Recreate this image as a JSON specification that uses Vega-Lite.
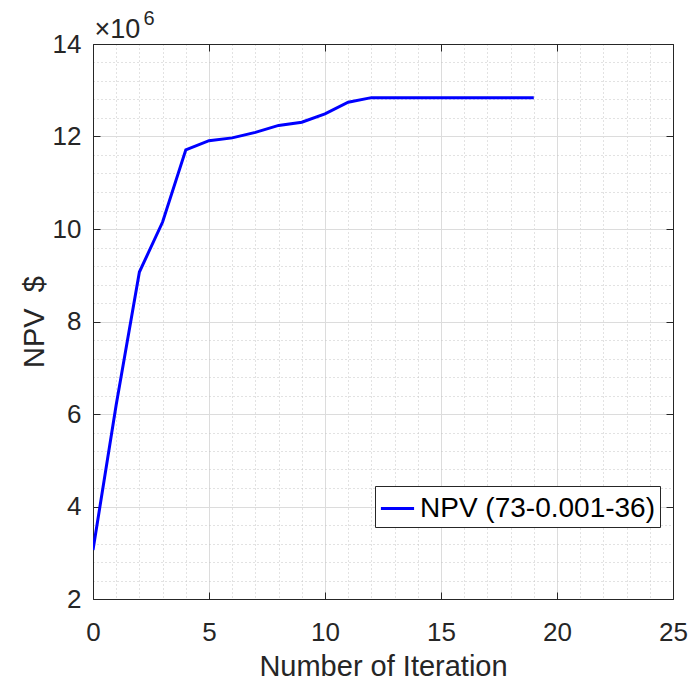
{
  "$schema": "https://vega.github.io/schema/vega-lite/v6.json",
  "autosize": "none",
  "width": 580,
  "height": 555,
  "padding": {"left": 93, "top": 44, "right": 18, "bottom": 85},
  "background": "white",
  "config": {
    "font": "Liberation Sans",
    "view": {"stroke": null},
    "axis": {"labelFont": "Liberation Sans", "titleFont": "Liberation Sans", "labelColor": "#262626", "titleColor": "#262626", "domainColor": "#262626", "tickColor": "#262626", "titleFontWeight": "normal", "labelOverlap": false, "labelFlush": false}
  },
  "data": {
    "values": [
      {"iteration": 0, "npv": 3060000, "series": "NPV (73-0.001-36)"},
      {"iteration": 1, "npv": 6200000, "series": "NPV (73-0.001-36)"},
      {"iteration": 2, "npv": 9070000, "series": "NPV (73-0.001-36)"},
      {"iteration": 3, "npv": 10150000, "series": "NPV (73-0.001-36)"},
      {"iteration": 4, "npv": 11710000, "series": "NPV (73-0.001-36)"},
      {"iteration": 5, "npv": 11910000, "series": "NPV (73-0.001-36)"},
      {"iteration": 6, "npv": 11970000, "series": "NPV (73-0.001-36)"},
      {"iteration": 7, "npv": 12090000, "series": "NPV (73-0.001-36)"},
      {"iteration": 8, "npv": 12240000, "series": "NPV (73-0.001-36)"},
      {"iteration": 9, "npv": 12310000, "series": "NPV (73-0.001-36)"},
      {"iteration": 10, "npv": 12490000, "series": "NPV (73-0.001-36)"},
      {"iteration": 11, "npv": 12740000, "series": "NPV (73-0.001-36)"},
      {"iteration": 12, "npv": 12840000, "series": "NPV (73-0.001-36)"},
      {"iteration": 13, "npv": 12840000, "series": "NPV (73-0.001-36)"},
      {"iteration": 14, "npv": 12840000, "series": "NPV (73-0.001-36)"},
      {"iteration": 15, "npv": 12840000, "series": "NPV (73-0.001-36)"},
      {"iteration": 16, "npv": 12840000, "series": "NPV (73-0.001-36)"},
      {"iteration": 17, "npv": 12840000, "series": "NPV (73-0.001-36)"},
      {"iteration": 18, "npv": 12840000, "series": "NPV (73-0.001-36)"},
      {"iteration": 19, "npv": 12840000, "series": "NPV (73-0.001-36)"}
    ]
  },
  "layer": [
    {
      "mark": {"type": "line", "strokeWidth": 3, "clip": true},
      "encoding": {
        "x": {
          "field": "iteration", "type": "quantitative",
          "scale": {"domain": [0, 25], "nice": false, "zero": false},
          "axis": {
            "title": "Number of Iteration", "titleFontSize": 29, "titlePadding": 0,
            "labelFontSize": 26, "labelPadding": 27,
            "values": [0,1,2,3,4,5,6,7,8,9,10,11,12,13,14,15,16,17,18,19,20,21,22,23,24,25],
            "labelExpr": "datum.value % 5 === 0 ? datum.value : ''",
            "tickSize": {"condition": {"test": "datum.value % 5 === 0", "value": -7}, "value": 0},
            "grid": true,
            "gridColor": {"condition": {"test": "datum.value % 5 === 0", "value": "#dcdcdc"}, "value": "#c4c4c4"},
            "gridDash": {"condition": {"test": "datum.value % 5 === 0", "value": []}, "value": [1, 3]},
            "gridWidth": 1
          }
        },
        "y": {
          "field": "npv", "type": "quantitative",
          "scale": {"domain": [2000000, 14000000], "nice": false, "zero": false},
          "axis": {
            "title": "NPV\u00a0\u00a0$", "titleFontSize": 29, "titlePadding": 3,
            "labelFontSize": 26, "labelPadding": 19,
            "values": [2000000,2400000,2800000,3200000,3600000,4000000,4400000,4800000,5200000,5600000,6000000,6400000,6800000,7200000,7600000,8000000,8400000,8800000,9200000,9600000,10000000,10400000,10800000,11200000,11600000,12000000,12400000,12800000,13200000,13600000,14000000],
            "labelExpr": "datum.value % 2000000 === 0 ? datum.value / 1000000 : ''",
            "tickSize": {"condition": {"test": "datum.value % 2000000 === 0", "value": -7}, "value": 0},
            "grid": true,
            "gridColor": {"condition": {"test": "datum.value % 2000000 === 0", "value": "#dcdcdc"}, "value": "#c4c4c4"},
            "gridDash": {"condition": {"test": "datum.value % 2000000 === 0", "value": []}, "value": [1, 3]},
            "gridWidth": 1
          }
        },
        "color": {
          "field": "series", "type": "nominal",
          "scale": {"range": ["#0000ff"]},
          "legend": {
            "title": null, "orient": "none", "legendX": 282, "legendY": 442,
            "symbolType": "stroke", "symbolSize": 1100, "symbolStrokeWidth": 3,
            "labelFontSize": 28, "labelColor": "#000000", "labelFont": "Liberation Sans", "labelLimit": 400,
            "strokeColor": "#262626", "fillColor": "white", "padding": 4, "cornerRadius": 0
          }
        }
      }
    },
    {
      "mark": {"type": "line", "opacity": 0},
      "encoding": {
        "x": {
          "field": "iteration", "type": "quantitative",
          "axis": {"orient": "top", "title": "×10", "titleFontSize": 27, "titleAnchor": "start", "titleAlign": "left", "titleBaseline": "alphabetic", "titleX": 1, "titleY": -7, "labels": false, "grid": false, "values": [0,5,10,15,20,25], "tickSize": -7}
        },
        "y": {
          "field": "npv", "type": "quantitative",
          "axis": {"orient": "right", "title": "6", "titleFontSize": 20, "titleAngle": 0, "titleAnchor": "start", "titleAlign": "left", "titleBaseline": "alphabetic", "titleX": -530, "titleY": -20, "labels": false, "grid": false, "values": [2000000,4000000,6000000,8000000,10000000,12000000,14000000], "tickSize": -7}
        }
      }
    }
  ],
  "resolve": {"axis": {"x": "independent", "y": "independent"}}
}
